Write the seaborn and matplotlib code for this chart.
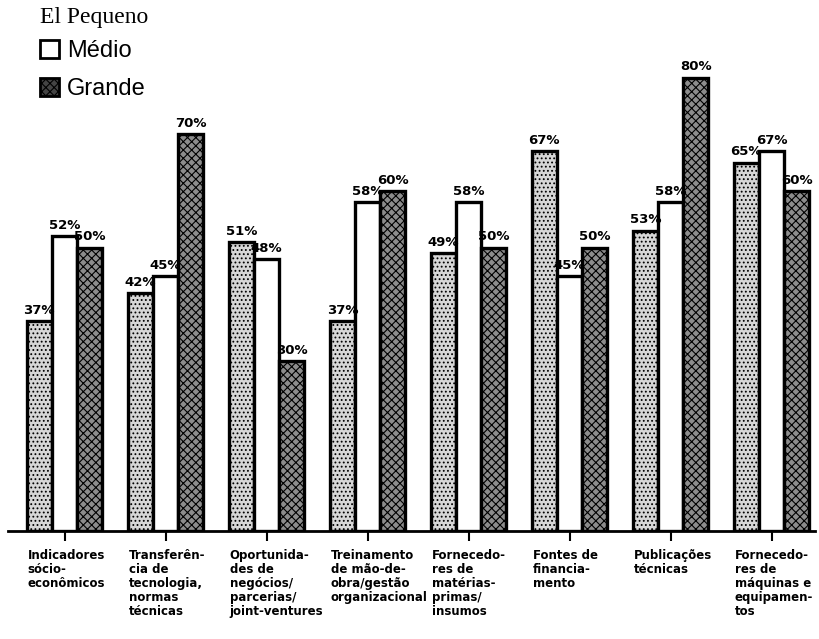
import matplotlib
matplotlib.use("Agg")
import matplotlib.pyplot as plt
import matplotlib.transforms as mtransforms
from matplotlib.patches import Patch
import seaborn as sns
import pandas as pd

categories = [
    "Indicadores\nsócio-\neconômicos",
    "Transferên-\ncia de\ntecnologia,\nnormas\ntécnicas",
    "Oportunida-\ndes de\nnegócios/\nparcerias/\njoint-ventures",
    "Treinamento\nde mão-de-\nobra/gestão\norganizacional",
    "Fornecedo-\nres de\nmatérias-\nprimas/\ninsumos",
    "Fontes de\nfinancia-\nmento",
    "Publicações\ntécnicas",
    "Fornecedo-\nres de\nmáquinas e\nequipamen-\ntos",
]
series_names = ["Pequeno", "Médio", "Grande"]
pequeno = [37, 42, 51, 37, 49, 67, 53, 65]
medio = [52, 45, 48, 58, 58, 45, 58, 67]
grande = [50, 70, 30, 60, 50, 50, 80, 60]

rows = []
for name, vals in zip(series_names, [pequeno, medio, grande]):
    for cat, v in zip(categories, vals):
        rows.append({"categoria": cat, "porte": name, "valor": v})
df = pd.DataFrame(rows)

sns.set_theme(style="white")
plt.rcParams["font.family"] = ["DejaVu Sans"]
plt.rcParams["hatch.linewidth"] = 0.8
plt.rcParams["text.color"] = "black"
plt.rcParams["xtick.color"] = "black"

colors = {"Pequeno": "#d6d6d6", "Médio": "#ffffff", "Grande": "#8c8c8c"}
hatches = {"Pequeno": "....", "Médio": "", "Grande": "xxxx"}

fig = plt.figure(figsize=(8.19, 6.39), dpi=100)
ax = fig.add_axes([8 / 819, 108 / 639, 807 / 819, 531 / 639])

sns.barplot(data=df, x="categoria", y="valor", hue="porte",
            hue_order=series_names, palette=colors, width=0.75,
            edgecolor="black", linewidth=2.4, saturation=1,
            legend=False, ax=ax)

for cont, name in zip(ax.containers, series_names):
    for bar in cont:
        bar.set_hatch(hatches[name])
    ax.bar_label(cont, labels=[f"{int(v)}%" for v in cont.datavalues],
                 padding=3, fontsize=9.5, fontweight="bold", color="black")

ax.set_xlim(-0.56, 7.43)
ax.set_ylim(0, 93.7)
ax.set_xlabel("")
ax.set_ylabel("")
ax.set_yticks([])
for s in ["top", "right", "left"]:
    ax.spines[s].set_visible(False)
ax.spines["bottom"].set_linewidth(2.0)
ax.spines["bottom"].set_color("black")

ax.tick_params(axis="x", direction="out", length=7, width=1.5,
               color="black", labelcolor="black", bottom=True, pad=6)
ax.set_xticks(range(len(categories)))
ax.set_xticklabels(categories, fontsize=8.5, fontweight="bold",
                   ha="left", va="top", linespacing=1.1, color="black")
offset = mtransforms.ScaledTranslation(-0.37, 0, fig.dpi_scale_trans)
for lbl in ax.get_xticklabels():
    lbl.set_transform(lbl.get_transform() + offset)

fig.text(40 / 819, 1 - 18 / 639, "El Pequeno", family="Liberation Serif",
         fontsize=17, va="center", ha="left", color="black")
handles = [Patch(facecolor="white", edgecolor="black", linewidth=2),
           Patch(facecolor="#444444", edgecolor="black", hatch="xxxx", linewidth=2)]
fig.legend(handles, ["Médio", "Grande"], loc="upper left",
           bbox_to_anchor=(40 / 819, 1 - 40 / 639), frameon=False,
           prop={"family": "Liberation Sans", "size": 17},
           labelcolor="black",
           handlelength=0.8, handleheight=0.8, handletextpad=0.35,
           labelspacing=0.65, borderaxespad=0, borderpad=0)

fig.savefig("out.png", dpi=100)
